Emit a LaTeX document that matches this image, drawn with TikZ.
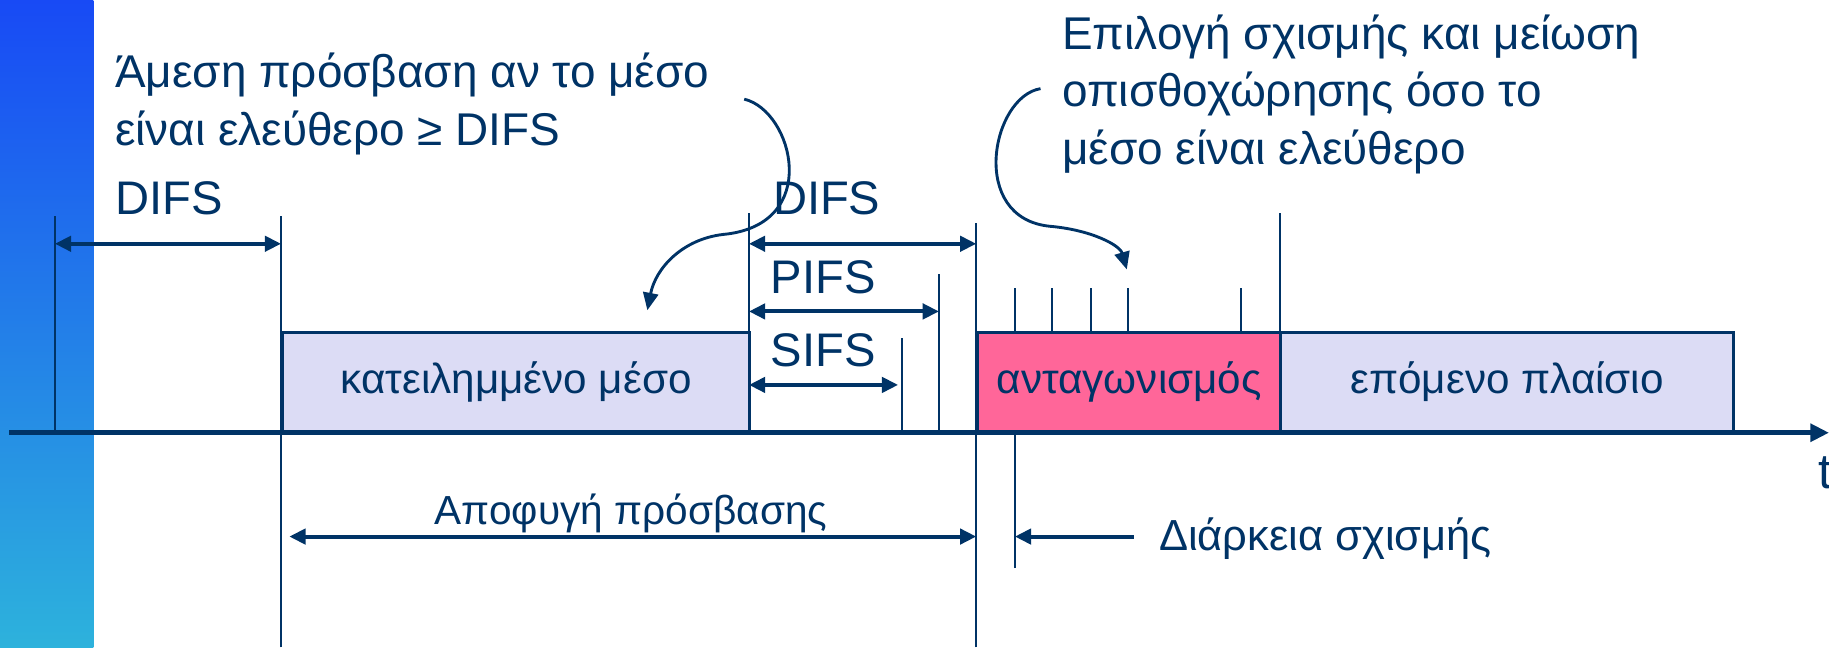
\documentclass[tikz,border=0pt]{standalone}
\usepackage{fontspec}
\setmainfont{Liberation Sans}
\usetikzlibrary{arrows.meta}
\definecolor{navy}{RGB}{0,51,102}
\definecolor{lavender}{RGB}{220,220,245}
\definecolor{hotpink}{RGB}{255,102,153}
\definecolor{bartop}{RGB}{24,74,245}
\definecolor{barbottom}{RGB}{45,178,220}
\tikzset{
  mark line/.style={navy, line width=0.5pt},
  dim/.style={navy, line width=1pt, {Triangle[length=1.4mm,width=1.3mm]}-{Triangle[length=1.4mm,width=1.3mm]}},
  onedim/.style={navy, line width=1pt, -{Triangle[length=1.4mm,width=1.3mm]}},
  frame box/.style={draw=navy, line width=0.6pt, anchor=south west, minimum height=0.85cm,
    inner sep=0pt, text=navy, font=\fontsize{10.3}{12}\selectfont},
  lbl/.style={text=navy, inner sep=0pt, anchor=west, font=\fontsize{11.5}{13}\selectfont},
  note/.style={text=navy, inner sep=0pt, anchor=north west, align=left,
    font=\fontsize{11.2}{14}\selectfont},
  bend arrow/.style={navy, line width=0.7pt, -{Triangle[length=1.5mm,width=1.3mm]}}
}
\begin{document}
\begin{tikzpicture}
\useasboundingbox (0,0) rectangle (15.68,5.55);
% side bar of the slide
\shade [top color=bartop, bottom color=barbottom] (0,0) rectangle (0.80,5.55);

% points on the time axis
\coordinate (t0)    at (0.47,1.84);
\coordinate (busyS) at (2.41,1.84);
\coordinate (busyE) at (6.42,1.84);
\coordinate (sifsE) at (7.73,1.84);
\coordinate (pifsE) at (8.05,1.84);
\coordinate (difsE) at (8.37,1.84);
\coordinate (slotE) at (8.70,1.84);
\coordinate (cwE)   at (10.97,1.84);
\coordinate (axisS) at (0.08,1.84);
\coordinate (axisE) at (15.68,1.84);

% frames
\node [frame box, fill=lavender, minimum width=4.01cm] (busy) at (busyS) {κατειλημμένο μέσο};
\node [frame box, fill=hotpink, minimum width=2.60cm] (contention) at (difsE) {ανταγωνισμός};
\node [frame box, fill=lavender, minimum width=3.88cm] (next) at (cwE) {επόμενο πλαίσιο};

% time axis
\draw [navy, line width=1.1pt, -{Triangle[length=1.6mm,width=1.5mm]}] (axisS) -- (axisE);
\node [text=navy, inner sep=0pt, anchor=west, font=\fontsize{12}{14}\selectfont] (tlabel) at (15.58,1.50) {t};

% vertical marks
\draw [mark line] (t0) -- (t0 |- 0,3.70);
\draw [mark line] (busyS |- 0,0) -- (busyS |- 0,3.70);
\draw [mark line] (busyE) -- (busyE |- 0,3.72);
\draw [mark line] (sifsE) -- (sifsE |- 0,2.65);
\draw [mark line] (pifsE) -- (pifsE |- 0,3.20);
\draw [mark line] (difsE |- 0,0) -- (difsE |- 0,3.64);
\draw [mark line] (cwE) -- (cwE |- 0,3.72);
\draw [mark line] (slotE |- 0,0.68) -- (slotE);
% slots of the contention window
\foreach \x in {8.70,9.02,9.35,9.67,10.64}
  \draw [mark line] (\x,2.69) -- (\x,3.08);

% inter frame spaces
\node [lbl] (difsA) at (0.98,3.85) {DIFS};
\draw [dim] (t0 |- 0,3.46) -- (busyS |- 0,3.46);
\node [lbl] (difsB) at (6.62,3.85) {DIFS};
\draw [dim] (busyE |- 0,3.46) -- (difsE |- 0,3.46);
\node [lbl] (pifs) at (6.60,3.17) {PIFS};
\draw [dim] (busyE |- 0,2.88) -- (pifsE |- 0,2.88);
\node [lbl] (sifs) at (6.60,2.55) {SIFS};
\draw [dim] (busyE |- 0,2.25) -- (7.70,2.25);

% below the axis
\node [lbl, anchor=center, font=\fontsize{9.9}{12}\selectfont] (defer) at (5.41,1.15) {Αποφυγή πρόσβασης};
\draw [dim] (2.48,0.95) -- (difsE |- 0,0.95);
\coordinate (slotArrow) at (9.72,0.95);
\draw [onedim] (slotArrow) -- (slotE |- 0,0.95);
\node [lbl, font=\fontsize{10.6}{13}\selectfont] (slotlabel) at (9.93,0.93) {Διάρκεια σχισμής};

% notes with bent arrows
\node [note] (direct) at (0.98,5.10) {Άμεση πρόσβαση αν το μέσο\\είναι ελεύθερο ≥ DIFS};
\node [note] (backoff) at (9.10,5.43) {Επιλογή σχισμής και μείωση\\οπισθοχώρησης όσο το\\μέσο είναι ελεύθερο};
\coordinate (directS) at (6.38,4.70);
\coordinate (directE) at (5.55,2.89);
\coordinate (backoffS) at (8.92,4.79);
\coordinate (backoffE) at (9.66,3.24);
\draw [bend arrow] (directS) .. controls (6.80,4.60) and (7.05,3.62) .. (6.20,3.54)
  .. controls (5.85,3.50) and (5.62,3.25) .. (directE);
\draw [bend arrow] (backoffS) .. controls (8.50,4.72) and (8.30,3.68) .. (9.00,3.61)
  .. controls (9.35,3.58) and (9.60,3.45) .. (backoffE);
\end{tikzpicture}
\end{document}
